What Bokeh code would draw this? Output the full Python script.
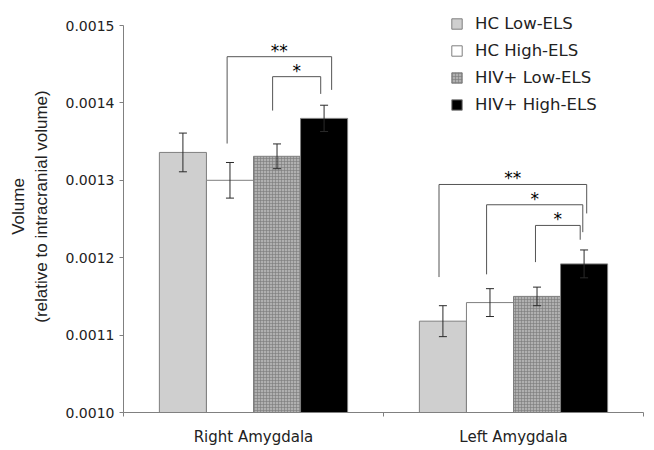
from bokeh.plotting import figure
from bokeh.models import (Range1d, FixedTicker, PrintfTickFormatter, Whisker, TeeHead,
                          ColumnDataSource, Legend, LegendItem)
from bokeh.core.properties import value
from bokeh.embed import file_html
from bokeh.resources import INLINE

# ---- data ----
categories = ["Right Amygdala", "Left Amygdala"]
groups = ["HC Low-ELS", "HC High-ELS", "HIV+ Low-ELS", "HIV+ High-ELS"]
hc_low = [0.001336, 0.001118]
hc_high = [0.001300, 0.001142]
hiv_low = [0.001331, 0.001150]
hiv_high = [0.001380, 0.001192]
hc_low_err = [0.000025, 0.000020]
hc_high_err = [0.000023, 0.000018]
hiv_low_err = [0.000016, 0.000012]
hiv_high_err = [0.000017, 0.000018]
y_ticks = [0.0010, 0.0011, 0.0012, 0.0013, 0.0014, 0.0015]

# significance brackets: (category index, left bar, right bar, label)
sig_pairs = [(0, 1, 3, "**"), (0, 2, 3, "*"),
             (1, 0, 3, "**"), (1, 1, 3, "*"), (1, 2, 3, "*")]
# bracket geometry (top, left leg bottom, right leg bottom, left dx, right dx)
sig_geom = [(0.0014597, 0.0013475, 0.0014168, -0.011, 0.029),
            (0.0014339, 0.0013901, 0.0014116, -0.017, -0.013),
            (0.0012946, 0.0011750, 0.0012572, -0.015, 0.010),
            (0.0012684, 0.0011785, 0.0012330, -0.013, -0.005),
            (0.0012417, 0.0011943, 0.0012232, -0.006, -0.015)]

series = [hc_low, hc_high, hiv_low, hiv_high]
errs = [hc_low_err, hc_high_err, hiv_low_err, hiv_high_err]

# ---- style ----
bar_w = 0.181
offsets = [-0.2715, -0.0905, 0.0905, 0.2715]
fills = ["#cfcfcf", "#ffffff", "#b0b0b0", "#000000"]
hatches = [None, None, "cross", None]
base = 0.0010
cat_x = [i + 0.5 for i in range(len(categories))]

p = figure(width=654, height=450, output_backend="svg", toolbar_location=None,
           x_range=Range1d(0, len(categories)), y_range=Range1d(base, 0.0015323),
           min_border_left=123, min_border_right=11, min_border_top=0, min_border_bottom=38)
p.outline_line_color = None
p.xgrid.visible = False
p.ygrid.visible = False
p.background_fill_color = "white"

renderers = []
for i, (vals, er) in enumerate(zip(series, errs)):
    xs = [c + offsets[i] for c in cat_x]
    src = ColumnDataSource(dict(x=xs, top=vals, upper=[v + e for v, e in zip(vals, er)],
                                lower=[v - e for v, e in zip(vals, er)]))
    kw = {}
    if hatches[i]:
        kw = dict(hatch_pattern=hatches[i], hatch_color="#7a7a7a", hatch_scale=3, hatch_weight=0.6)
    r = p.vbar(x="x", top="top", bottom=base, width=bar_w, source=src,
               fill_color=fills[i], line_color="#7f7f7f", line_width=1, **kw)
    renderers.append(r)
    w = Whisker(base="x", upper="upper", lower="lower", source=src, dimension="height",
                line_color="#2a2a2a", line_width=1, level="overlay",
                upper_head=TeeHead(size=8, line_color="#2a2a2a", line_width=1),
                lower_head=TeeHead(size=8, line_color="#2a2a2a", line_width=1))
    p.add_layout(w)

# brackets
bxs, bys, sx, sy, st = [], [], [], [], []
for (ci, a, b, lab), (top, lb, rb, ldx, rdx) in zip(sig_pairs, sig_geom):
    xl = cat_x[ci] + offsets[a] + ldx
    xr = cat_x[ci] + offsets[b] + rdx
    bxs.append([xl, xl, xr, xr])
    bys.append([lb, top, top, rb])
    sx.append((xl + xr) / 2)
    sy.append(top)
    st.append(lab)
p.multi_line(xs=bxs, ys=bys, line_color="#555555", line_width=1)
p.text(x=sx, y=sy, text=st, text_align="center", text_baseline="alphabetic",
       text_font=value("DejaVu Sans"), text_font_size="17px", text_color="black", y_offset=-6)

# axes
ya = p.yaxis[0]
ya.ticker = FixedTicker(ticks=y_ticks)
ya.formatter = PrintfTickFormatter(format="%.4f")
ya.bounds = (base, 0.0015)
ya.minor_tick_line_color = None
ya.major_tick_in = 0
ya.major_tick_out = 4
ya.major_label_standoff = 5
ya.axis_line_color = "#808080"
ya.major_tick_line_color = "#808080"
ya.major_label_text_font = "DejaVu Sans"
ya.major_label_text_font_size = "14px"
ya.major_label_text_color = "#222222"
ya.axis_label = "Volume\n(relative to intracranial volume)"
ya.axis_label_text_font = "Liberation Sans"
ya.axis_label_text_font_style = "normal"
ya.axis_label_text_font_size = "17px"
ya.axis_label_text_color = "#222222"
ya.axis_label_standoff = 12

xa = p.xaxis[0]
xa.ticker = FixedTicker(ticks=cat_x, minor_ticks=[float(i) for i in range(len(categories) + 1)])
xa.major_label_overrides = {c: n for c, n in zip(cat_x, categories)}
xa.major_tick_in = 0
xa.major_tick_out = 0
xa.minor_tick_in = 0
xa.minor_tick_out = 4
xa.minor_tick_line_color = "#808080"
xa.axis_line_color = "#808080"
xa.major_label_standoff = 11
xa.major_label_text_font = "DejaVu Sans"
xa.major_label_text_font_size = "15px"
xa.major_label_text_color = "#222222"

legend = Legend(items=[LegendItem(label=g, renderers=[r]) for g, r in zip(groups, renderers)],
                location=(327, 298), glyph_width=13, glyph_height=13, label_standoff=12,
                spacing=7, label_height=20, padding=0, margin=0, border_line_color=None,
                background_fill_alpha=0, label_text_font="DejaVu Sans",
                label_text_font_size="16.5px", label_text_color="#222222")
p.add_layout(legend)

open("out.html", "w").write(file_html(p, INLINE))
